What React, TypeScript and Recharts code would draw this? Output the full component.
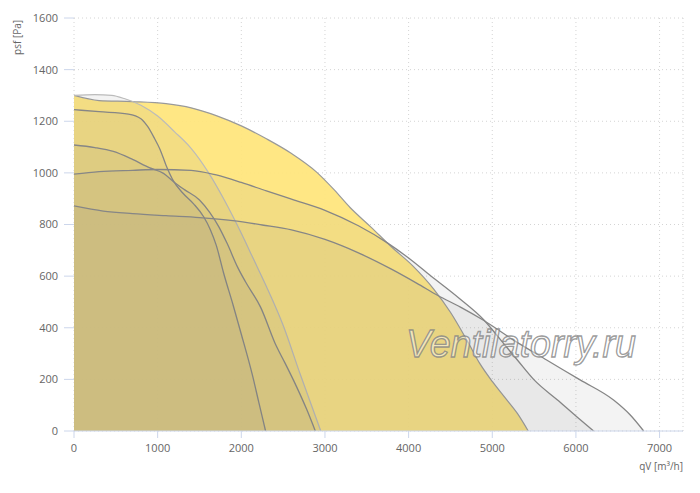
import React from 'react';
import { Area, CartesianGrid, ComposedChart, XAxis, YAxis } from 'recharts';

// working range (yellow)
const rangeQ = [0, 300, 700, 1100, 1400, 1700, 2000, 2300, 2600, 2900, 3100, 3300, 3550, 3800, 4050, 4300, 4500, 4700, 4850, 5000, 5150, 5300, 5430];
const rangeP = [1300, 1280, 1276, 1268, 1252, 1222, 1182, 1132, 1075, 1003, 938, 866, 790, 712, 640, 550, 460, 350, 262, 192, 130, 68, 0];

// fan curves
const curveAQ = [0, 250, 450, 600, 800, 1000, 1200, 1400, 1600, 1800, 2000, 2150, 2300, 2500, 2700, 2950];
const curveAP = [1300, 1303, 1300, 1288, 1262, 1220, 1160, 1095, 1005, 893, 766, 663, 560, 410, 224, 0];

const curveBQ = [0, 300, 650, 800, 880, 960, 1030, 1100, 1190, 1300, 1430, 1550, 1630, 1700, 1790, 1900, 2000, 2130, 2210, 2290];
const curveBP = [1245, 1237, 1228, 1210, 1180, 1135, 1090, 1030, 968, 922, 880, 830, 780, 720, 610, 490, 375, 220, 110, 0];

const curveCQ = [0, 250, 470, 700, 900, 1070, 1190, 1320, 1500, 1620, 1730, 1830, 1960, 2050, 2230, 2420, 2520, 2660, 2780, 2885];
const curveCP = [1108, 1098, 1083, 1052, 1020, 998, 966, 935, 895, 848, 792, 727, 632, 578, 480, 328, 265, 172, 85, 0];

const curveDQ = [0, 300, 700, 1000, 1400, 1700, 2000, 2300, 2600, 3000, 3400, 3750, 4000, 4260, 4600, 4900, 5100, 5300, 5500, 5780, 6010, 6210];
const curveDP = [995, 1005, 1010, 1013, 1010, 992, 963, 930, 898, 855, 795, 728, 670, 602, 515, 430, 353, 275, 198, 120, 55, 0];

const curveEQ = [0, 350, 700, 1100, 1500, 1900, 2250, 2600, 3000, 3400, 3800, 4100, 4350, 4620, 4900, 5250, 5650, 6050, 6450, 6650, 6810];
const curveEP = [872, 852, 842, 834, 827, 815, 798, 779, 742, 690, 626, 572, 525, 480, 428, 353, 275, 198, 120, 62, 0];

const xTicks = [0, 1000, 2000, 3000, 4000, 5000, 6000, 7000];
const yTicks = [0, 200, 400, 600, 800, 1000, 1200, 1400, 1600];

const series = [
	{ key: 'range', q: rangeQ, p: rangeP },
	{ key: 'a', q: curveAQ, p: curveAP },
	{ key: 'b', q: curveBQ, p: curveBP },
	{ key: 'c', q: curveCQ, p: curveCP },
	{ key: 'd', q: curveDQ, p: curveDP },
	{ key: 'e', q: curveEQ, p: curveEP },
];

const rows = new Map<number, any>();
series.forEach((s) => {
	s.q.forEach((q, i) => {
		const row = rows.get(q) || { q };
		row[s.key] = s.p[i];
		rows.set(q, row);
	});
});
const data = Array.from(rows.values()).sort((a, b) => a.q - b.q);

const tickStyle = { fontSize: 11, fill: '#666', fontFamily: '"Open Sans", sans-serif' };

const App = () => {
	return (
		<div style={{ position: 'relative', width: 692, height: 485 }}>
			<ComposedChart width={692} height={485} data={data} margin={{ top: 10, right: 17, bottom: 32, left: 0 }}>
				<CartesianGrid stroke="#d4d4d4" strokeDasharray="1 3" />
				<XAxis
					dataKey="q"
					type="number"
					domain={[0, 7280]}
					ticks={xTicks}
					height={30}
					tick={tickStyle}
					tickSize={7}
					tickMargin={6}
					axisLine={{ stroke: '#ccd6eb' }}
					tickLine={{ stroke: '#ccd6eb' }}
					allowDataOverflow
				/>
				<YAxis
					type="number"
					domain={[0, 1600]}
					ticks={yTicks}
					width={66}
					tick={tickStyle}
					tickSize={10}
					tickMargin={6}
					axisLine={false}
					tickLine={{ stroke: '#ccd6eb' }}
				/>
				<Area dataKey="range" type="monotone" connectNulls fill="#ffe67c" fillOpacity={0.94} stroke="#9a9a9a" strokeWidth={1.2} dot={false} activeDot={false} isAnimationActive={false} />
				<Area dataKey="a" type="monotone" connectNulls fill="#808080" fillOpacity={0.095} stroke="#bbbbbb" strokeWidth={1.2} dot={false} activeDot={false} isAnimationActive={false} />
				<Area dataKey="b" type="monotone" connectNulls fill="#808080" fillOpacity={0.095} stroke="#868686" strokeWidth={1.3} dot={false} activeDot={false} isAnimationActive={false} />
				<Area dataKey="c" type="monotone" connectNulls fill="#808080" fillOpacity={0.095} stroke="#868686" strokeWidth={1.3} dot={false} activeDot={false} isAnimationActive={false} />
				<Area dataKey="d" type="monotone" connectNulls fill="#808080" fillOpacity={0.095} stroke="#868686" strokeWidth={1.3} dot={false} activeDot={false} isAnimationActive={false} />
				<Area dataKey="e" type="monotone" connectNulls fill="#808080" fillOpacity={0.095} stroke="#868686" strokeWidth={1.3} dot={false} activeDot={false} isAnimationActive={false} />
			</ComposedChart>
			<svg width={692} height={485} style={{ position: 'absolute', left: 0, top: 0, pointerEvents: 'none' }}>
				<text transform="translate(13,12) rotate(-90)" textAnchor="end" fontSize={10} fill="#666" fontFamily='"Open Sans", sans-serif'>
					psf [Pa]
				</text>
				<text x={675} y={462} textAnchor="end" fontSize={10} fill="#666" fontFamily='"Open Sans", sans-serif'>
					qV [m³/h]
				</text>
				<text
					x={398}
					y={349}
					fontSize={38}
					fontStyle="italic"
					fontFamily='"Liberation Sans Narrow", "Liberation Sans", sans-serif'
					textLength={230}
					lengthAdjust="spacingAndGlyphs"
					fill="rgba(255,255,255,0.45)"
					stroke="rgba(130,130,130,0.8)"
					strokeWidth={1.3}
				>
					Ventilatorry.ru
				</text>
			</svg>
		</div>
	);
};

export default App;
